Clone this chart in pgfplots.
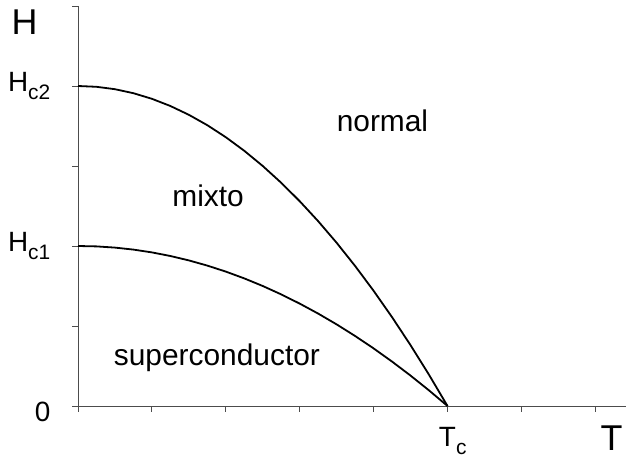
\documentclass[border=0pt]{standalone}
\usepackage{fontspec}
\setmainfont{Liberation Sans}
\usepackage{pgfplots}
\usepackage{pgfplotstable}
\pgfplotsset{compat=1.18}

% symbol with a lowered subscript, as in H_c2
\newcommand{\crit}[2]{#1\raisebox{-8bp}{\fontsize{21}{21}\selectfont #2}}

% critical fields versus temperature (T_c = 5)
\pgfplotstableread{
T     Hctwo  Hcone
0.00  4.00   2.000
0.25  3.99   1.995
0.50  3.96   1.980
0.75  3.91   1.955
1.00  3.84   1.920
1.25  3.75   1.875
1.50  3.64   1.820
1.75  3.51   1.755
2.00  3.36   1.680
2.25  3.19   1.595
2.50  3.00   1.500
2.75  2.79   1.395
3.00  2.56   1.280
3.25  2.31   1.155
3.50  2.04   1.020
3.75  1.75   0.875
4.00  1.44   0.720
4.25  1.11   0.555
4.50  0.76   0.380
4.75  0.39   0.195
5.00  0.00   0.000
}\critfields

\begin{document}
\begin{tikzpicture}
\begin{axis}[
  at={(78bp,52bp)}, anchor=origin,
  x=73.9bp, y=80bp,
  xmin=0, xmax=7.42, ymin=0, ymax=5,
  axis x line=bottom, axis y line=left,
  axis line style={-, draw=black!70, line width=0.9bp},
  tick style={draw=black!70, line width=0.9bp},
  tick align=outside, major tick length=5.5bp,
  xtick={0,...,7}, ytick={0,...,5},
  xticklabels={,,,,,{T\rlap{\raisebox{-8bp}{\fontsize{21}{21}\selectfont c}}}},
  yticklabels={{\vphantom{0}\raisebox{-6bp}[0pt][0pt]{0}\hspace{4bp}},,{\crit{H}{c1}},,{\crit{H}{c2}},},
  xticklabel style={anchor=north, inner sep=0pt, yshift=-16bp, font=\fontsize{28}{28}\selectfont},
  yticklabel style={anchor=east, inner sep=0pt, xshift=-22bp, font=\fontsize{28}{28}\selectfont},
  clip=false,
]
\addplot[black, line width=1.8bp] table[x=T, y=Hctwo] {\critfields};
\addplot[black, line width=1.8bp] table[x=T, y=Hcone] {\critfields};

\node[anchor=base, font=\fontsize{30}{30}\selectfont] at (axis cs:4.12,3.425) {normal};
\node[anchor=base, font=\fontsize{30}{30}\selectfont] at (axis cs:1.76,2.49) {mixto};
\node[anchor=base, font=\fontsize{30}{30}\selectfont] at (axis cs:1.88,0.51) {superconductor};

\node[anchor=north, inner sep=0pt, font=\fontsize{36}{36}\selectfont] at (axis cs:-0.724,4.95) {H};
\node[anchor=north, inner sep=0pt, font=\fontsize{36}{36}\selectfont] at (axis cs:7.22,-0.25) {T};
\end{axis}
\pgfresetboundingbox
\path[use as bounding box] (0,0) rectangle (626bp,458bp);
\end{tikzpicture}
\end{document}
